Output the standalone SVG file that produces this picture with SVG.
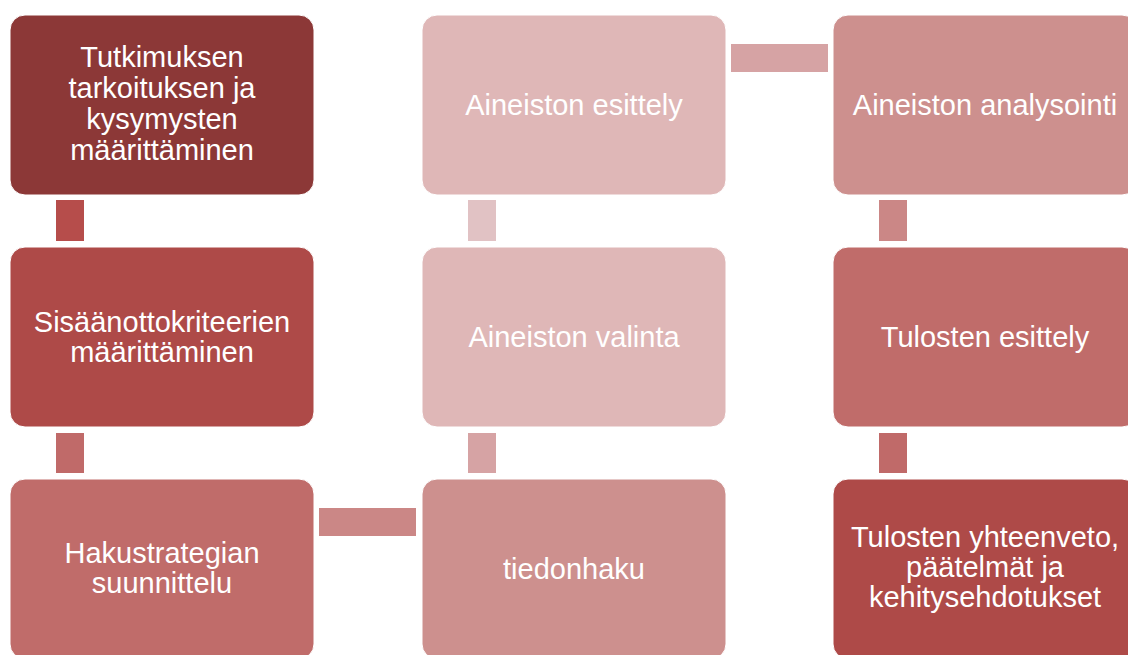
<svg xmlns="http://www.w3.org/2000/svg" width="1128" height="655" viewBox="0 0 1128 655">
<style>
.box{stroke:#ffffff;stroke-width:1}
.t{font-family:"Liberation Sans",Arial,sans-serif;font-size:29px;fill:#ffffff;text-anchor:middle}
</style>
<rect width="1128" height="655" fill="#ffffff"/>
<g id="connectors">
<rect x="56" y="200" width="28" height="41" fill="#B64D4B"/>
<rect x="56" y="433" width="28" height="40" fill="#C06A69"/>
<rect x="319" y="508" width="97" height="28" fill="#CB8786"/>
<rect x="468" y="433" width="28" height="40" fill="#D6A3A4"/>
<rect x="468" y="200" width="28" height="41" fill="#E1C2C4"/>
<rect x="731" y="44" width="97" height="28" fill="#D6A3A4"/>
<rect x="879" y="200" width="28" height="41" fill="#CB8786"/>
<rect x="879" y="433" width="28" height="40" fill="#C06A69"/>
</g>
<g id="n1">
<rect class="box" x="10" y="15" width="304" height="180" rx="15" fill="#8C3837"/>
<text class="t" x="162" y="67">Tutkimuksen</text>
<text class="t" x="162" y="98">tarkoituksen ja</text>
<text class="t" x="162" y="129">kysymysten</text>
<text class="t" x="162" y="160">määrittäminen</text>
</g>
<g id="n2">
<rect class="box" x="10" y="247" width="304" height="180" rx="15" fill="#AE4A48"/>
<text class="t" x="162" y="332">Sisäänottokriteerien</text>
<text class="t" x="162" y="362">määrittäminen</text>
</g>
<g id="n3">
<rect class="box" x="10" y="479" width="304" height="180" rx="15" fill="#C06C6A"/>
<text class="t" x="162" y="563">Hakustrategian</text>
<text class="t" x="162" y="593">suunnittelu</text>
</g>
<g id="n4">
<rect class="box" x="422" y="479" width="304" height="180" rx="15" fill="#CD908E"/>
<text class="t" x="574" y="579">tiedonhaku</text>
</g>
<g id="n5">
<rect class="box" x="422" y="247" width="304" height="180" rx="15" fill="#DFB7B7"/>
<text class="t" x="574" y="347">Aineiston valinta</text>
</g>
<g id="n6">
<rect class="box" x="422" y="15" width="304" height="180" rx="15" fill="#DFB7B7"/>
<text class="t" x="574" y="115">Aineiston esittely</text>
</g>
<g id="n7">
<rect class="box" x="833" y="15" width="304" height="180" rx="15" fill="#CD908E"/>
<text class="t" x="985" y="115">Aineiston analysointi</text>
</g>
<g id="n8">
<rect class="box" x="833" y="247" width="304" height="180" rx="15" fill="#C06C6A"/>
<text class="t" x="985" y="347">Tulosten esittely</text>
</g>
<g id="n9">
<rect class="box" x="833" y="479" width="304" height="180" rx="15" fill="#AE4A48"/>
<text class="t" x="985" y="547">Tulosten yhteenveto,</text>
<text class="t" x="985" y="577">päätelmät ja</text>
<text class="t" x="985" y="607">kehitysehdotukset</text>
</g>
</svg>
